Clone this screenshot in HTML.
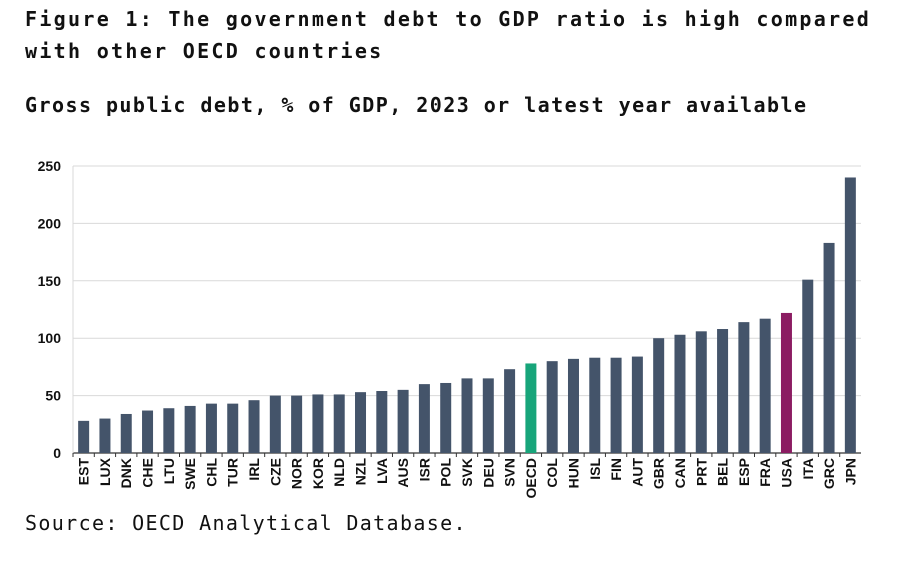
<!DOCTYPE html>
<html><head><meta charset="utf-8"><style>
body{margin:0;width:912px;height:561px;background:#fff;overflow:hidden;position:relative;font-family:"DejaVu Sans Mono","Liberation Mono",monospace;}
.t{position:absolute;left:25px;white-space:nowrap;color:#111;}
</style></head><body>
<div class="t" style="top:3px;font-size:20px;font-weight:bold;line-height:32px;letter-spacing:2.3px">Figure 1: The government debt to GDP ratio is high compared<br>with other OECD countries</div>
<div class="t" style="top:93px;font-size:20px;font-weight:bold;letter-spacing:1.45px">Gross public debt, % of GDP, 2023 or latest year available</div>
<div class="t" style="top:511px;font-size:20px;letter-spacing:1.35px">Source: OECD Analytical Database.</div>
<svg id="c" width="912" height="561" style="position:absolute;left:0;top:0"></svg>
<script>
const categories=["EST","LUX","DNK","CHE","LTU","SWE","CHL","TUR","IRL","CZE","NOR","KOR","NLD","NZL","LVA","AUS","ISR","POL","SVK","DEU","SVN","OECD","COL","HUN","ISL","FIN","AUT","GBR","CAN","PRT","BEL","ESP","FRA","USA","ITA","GRC","JPN"];
const values=[28,30,34,37,39,41,43,43,46,50,50,51,51,53,54,55,60,61,65,65,73,78,80,82,83,83,84,100,103,106,108,114,117,122,151,183,240];
const yTicks=[0,50,100,150,200,250];
const highlight={"OECD":"#17a57a","USA":"#8b1c62"};
const svg=document.getElementById('c');const NS="http://www.w3.org/2000/svg";
const L=73,R=861,T=166,B=453,yMax=250;
const FF='"Liberation Sans Narrow","Liberation Sans",Arial,sans-serif';
const y=v=>B-(v/yMax)*(B-T);
const step=(R-L)/categories.length;
const x=i=>L+step*(i+0.5);
function mk(t,a){const e=document.createElementNS(NS,t);for(const k in a)e.setAttribute(k,a[k]);svg.appendChild(e);return e;}
yTicks.forEach(v=>{
 if(v>0){const g=mk('line',{x1:L,x2:R,y1:y(v),y2:y(v),stroke:'#d9d9d9','stroke-width':1});
 
 }
 const t=mk('text',{x:61,y:y(v)+5,'text-anchor':'end','font-family':FF,'font-weight':'bold','font-size':14,fill:'#111'});
 t.textContent=v;
 
 
});
const ax=mk('line',{x1:L,x2:R,y1:B,y2:B,stroke:'#333','stroke-width':1.2});


const yl=mk('line',{x1:L,x2:L,y1:T,y2:B,stroke:'#d9d9d9','stroke-width':1});


categories.forEach((c,i)=>{
 const tk=mk('line',{x1:L+step*i,x2:L+step*i,y1:B,y2:B+4,stroke:'#333'});
 
 
 const bw=11;
 const r=mk('rect',{x:x(i)-bw/2,y:y(values[i]),width:bw,height:B-y(values[i]),fill:highlight[c]||'#44546a'});
 
 
 const t=mk('text',{transform:`translate(${x(i)+5},${B+5}) rotate(-90)`,'text-anchor':'end','font-family':FF,'font-weight':'bold','font-size':14,fill:'#111'});
 t.textContent=c;
 
 
});
</script>
</body></html>
